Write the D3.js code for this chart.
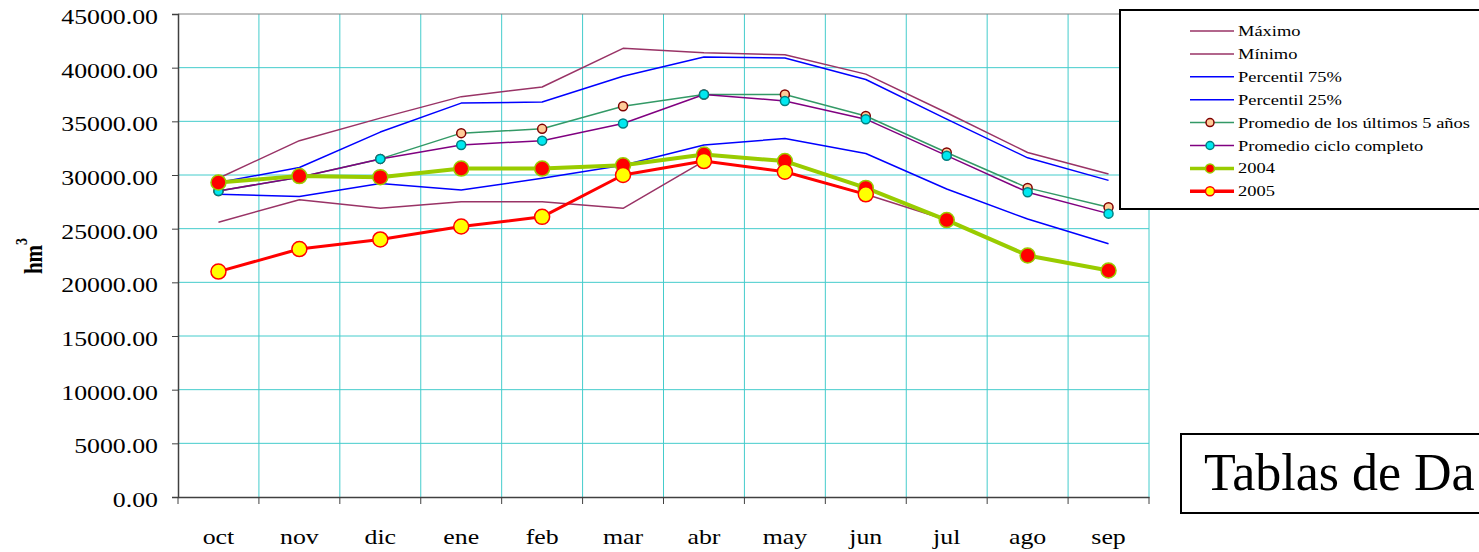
<!DOCTYPE html>
<html>
<head>
<meta charset="utf-8">
<script src="https://cdn.jsdelivr.net/npm/d3@7"></script>
<style>
  body { margin: 0; background: #fff; overflow: hidden; }
  svg { display: block; font-family: "Liberation Serif", "Times New Roman", serif; }
</style>
</head>
<body>
<svg id="chart" width="1479" height="552"></svg>
<script>
const months = ["oct", "nov", "dic", "ene", "feb", "mar", "abr", "may", "jun", "jul", "ago", "sep"];
const yTicks = [0, 5000, 10000, 15000, 20000, 25000, 30000, 35000, 40000, 45000];

const maximo   = [29700, 33200, 35300, 37300, 38200, 41800, 41400, 41200, 39400, 35800, 32100, 30100];
const minimo   = [25600, 27700, 26900, 27500, 27500, 26900, 31300, 30300, 28200, 25800, 22500, 21100];
const p75      = [29300, 30700, 34000, 36700, 36800, 39200, 41000, 40900, 38900, 35200, 31600, 29500];
const p25      = [28200, 28000, 29200, 28600, 29700, 30900, 32800, 33400, 32000, 28700, 25900, 23600];
const prom5    = [28500, 29800, 31500, 33900, 34300, 36400, 37500, 37500, 35500, 32100, 28800, 27000];
const promCiclo = [28500, 29800, 31500, 32800, 33200, 34800, 37500, 36900, 35200, 31800, 28400, 26400];
const y2004    = [29300, 29900, 29800, 30600, 30600, 30900, 31900, 31300, 28800, 25800, 22500, 21100];
const y2005    = [21000, 23100, 24000, 25200, 26100, 30000, 31300, 30300, 28200];

const series = [
  { name: "Máximo", values: maximo, color: "#993366", width: 1.5 },
  { name: "Mínimo", values: minimo, color: "#993366", width: 1.5 },
  { name: "Percentil 75%", values: p75, color: "#0000ff", width: 1.5 },
  { name: "Percentil 25%", values: p25, color: "#0000ff", width: 1.5 },
  { name: "Promedio de los últimos 5 años", values: prom5, color: "#339966", width: 1.5,
    marker: { r: 4.5, fill: "#ffcc99", stroke: "#800000" } },
  { name: "Promedio ciclo completo", values: promCiclo, color: "#800080", width: 1.5,
    marker: { r: 4.5, fill: "#00e8f0", stroke: "#008080" } },
  { name: "2004", values: y2004, color: "#99cc00", width: 4,
    marker: { r: 7.5, fill: "#ff0000", stroke: "#99cc00" } },
  { name: "2005", values: y2005, color: "#ff0000", width: 3,
    marker: { r: 7.5, fill: "#ffff00", stroke: "#ff0000" } }
];

// the original picture is stretched sideways, so text is widened a bit
const SX = 1.23;

const svg = d3.select("#chart");
const plot = { left: 178, right: 1149, top: 14, bottom: 497 };

const x = d3.scaleBand().domain(months).range([plot.left, plot.right]).padding(0);
const y = d3.scaleLinear().domain([0, 45000]).range([plot.bottom, plot.top]);
const cx = d => x(d) + x.bandwidth() / 2;
const edge = d => d === "end" ? plot.right : x(d);

// gridlines
const grid = svg.append("g");
grid.selectAll(".hg")
  .data(yTicks.filter(t => t > 0 && t < 45000))
  .enter().append("line")
    .attr("x1", plot.left).attr("x2", plot.right)
    .attr("y1", d => y(d)).attr("y2", d => y(d))
    .attr("stroke", "#44cccc").attr("stroke-width", 1);
grid.selectAll(".vg")
  .data(months.slice(1).concat(["end"]))
  .enter().append("line")
    .attr("x1", edge).attr("x2", edge)
    .attr("y1", plot.top).attr("y2", plot.bottom)
    .attr("stroke", "#44cccc").attr("stroke-width", 1);
grid.append("line")
  .attr("x1", plot.left).attr("x2", plot.right)
  .attr("y1", y(45000)).attr("y2", y(45000))
  .attr("stroke", "#808080").attr("stroke-width", 1);

// y axis
const yAxis = svg.append("g")
  .attr("transform", `translate(${plot.left},0)`)
  .call(d3.axisLeft(y).tickValues(yTicks).tickFormat(d3.format(".2f")).tickSize(6).tickPadding(14));
yAxis.select(".domain").attr("stroke", "#404040").attr("stroke-width", 1.5);
yAxis.selectAll(".tick line").attr("stroke", "#404040");
yAxis.selectAll("text")
  .attr("font-size", 21).attr("fill", "#000")
  .attr("font-family", "Liberation Serif")
  .attr("x", -20 / SX).attr("dy", "0.45em")
  .attr("transform", `scale(${SX},1)`);

// x axis
const xAxis = svg.append("g")
  .attr("transform", `translate(0,${plot.bottom})`)
  .call(d3.axisBottom(x).tickSize(0).tickPadding(32));
xAxis.select(".domain").attr("stroke", "#404040").attr("stroke-width", 1.5);
xAxis.selectAll("text")
  .attr("font-size", 21).attr("fill", "#000")
  .attr("font-family", "Liberation Serif")
  .attr("transform", `scale(${SX},1)`);
xAxis.selectAll(".bt")
  .data(months.concat(["end"]))
  .enter().append("line")
    .attr("x1", edge).attr("x2", edge)
    .attr("y1", 0).attr("y2", 7)
    .attr("stroke", "#404040");

// y label
svg.append("text")
  .attr("transform", `translate(42,256) scale(${SX},1) rotate(-90)`)
  .attr("text-anchor", "middle")
  .attr("font-size", 21).attr("font-weight", "bold")
  .text("hm")
  .append("tspan").attr("dy", -12).attr("font-size", 14).text("3");

// series
const line = d3.line().x((d, i) => cx(months[i])).y(d => y(d));
series.forEach(s => {
  svg.append("path")
    .datum(s.values)
    .attr("d", line)
    .attr("fill", "none")
    .attr("stroke", s.color)
    .attr("stroke-width", s.width)
    .attr("stroke-linejoin", "round");
  if (s.marker) {
    svg.append("g").selectAll("circle")
      .data(s.values)
      .enter().append("circle")
        .attr("cx", (d, i) => cx(months[i]))
        .attr("cy", d => y(d))
        .attr("r", s.marker.r)
        .attr("fill", s.marker.fill)
        .attr("stroke", s.marker.stroke)
        .attr("stroke-width", 1.5);
  }
});

// legend
const legend = svg.append("g");
legend.append("rect")
  .attr("x", 1120).attr("y", 10).attr("width", 400).attr("height", 199)
  .attr("fill", "#fff").attr("stroke", "#000").attr("stroke-width", 2);
const rows = legend.selectAll(".row")
  .data(series)
  .enter().append("g")
    .attr("transform", (d, i) => `translate(0,${31 + i * 22.9})`);
rows.append("line")
  .attr("x1", 1190).attr("x2", 1234)
  .attr("stroke", d => d.color)
  .attr("stroke-width", d => d.width > 2 ? 3.5 : 1.5);
rows.filter(d => d.marker).append("circle")
  .attr("cx", 1210).attr("cy", 0)
  .attr("r", d => d.marker.r > 5 ? 4.5 : 4)
  .attr("fill", d => d.marker.fill)
  .attr("stroke", d => d.marker.stroke)
  .attr("stroke-width", 1.5);
rows.append("text")
  .attr("transform", `translate(1238,5) scale(${SX},1)`)
  .attr("font-size", 15)
  .text(d => d.name);

// data table box (only its visible part fits in the window)
svg.append("rect")
  .attr("x", 1181).attr("y", 434).attr("width", 400).attr("height", 79)
  .attr("fill", "#fff").attr("stroke", "#000").attr("stroke-width", 2);
svg.append("text")
  .attr("transform", "translate(1204,490)")
  .attr("font-size", 52)
  .text("Tablas de Da");
</script>
</body>
</html>
